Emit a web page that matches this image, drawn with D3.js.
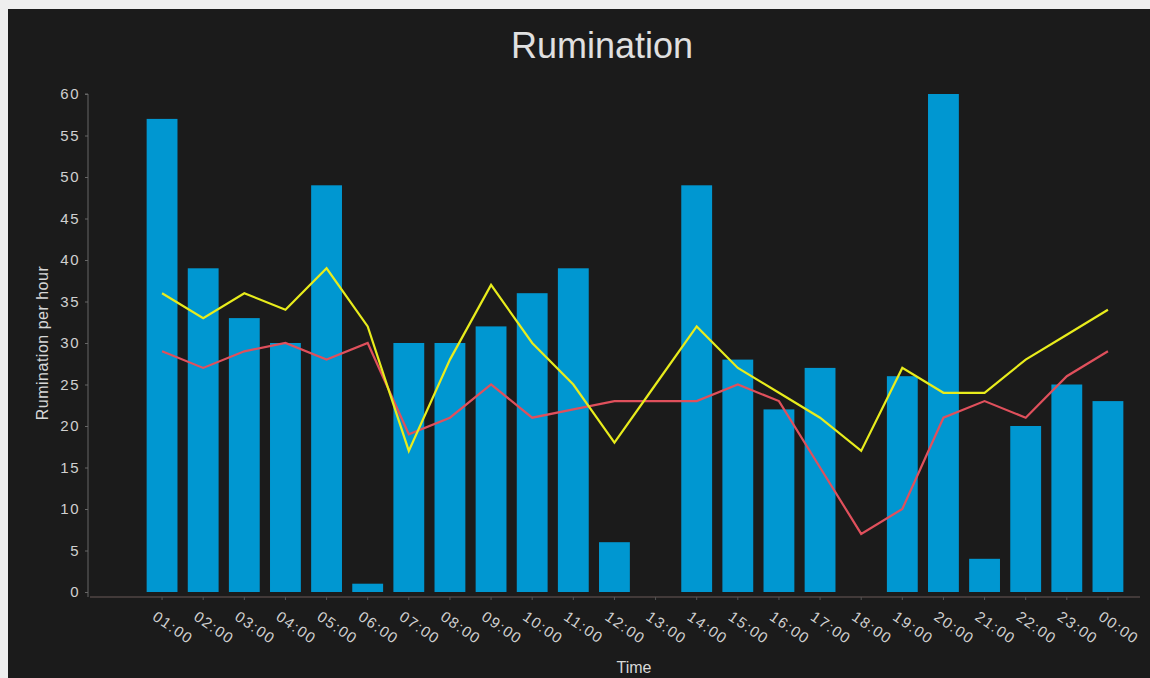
<!DOCTYPE html>
<html>
<head>
<meta charset="utf-8">
<script src="https://cdn.jsdelivr.net/npm/d3@7"></script>
<style>
  body { margin: 0; background: #eeeeee; }
  #graph { width: 1150px; height: 678px; }
</style>
</head>
<body>
<div id="graph"></div>
<script>
const hours = ["01:00","02:00","03:00","04:00","05:00","06:00","07:00","08:00","09:00","10:00","11:00","12:00",
  "13:00","14:00","15:00","16:00","17:00","18:00","19:00","20:00","21:00","22:00","23:00","00:00"]
const barValues = [57, 39, 33, 30, 49, 1, 30, 30, 32, 36, 39, 6, 0, 49, 28, 22, 27, 0, 26, 60, 4, 20, 25, 23]
const yellowValues = [36, 33, 36, 34, 39, 32, 17, 28, 37, 30, 25, 18, 25, 32, 27, 24, 21, 17, 27, 24, 24, 28, 31, 34]
const redValues = [29, 27, 29, 30, 28, 30, 19, 21, 25, 21, 22, 23, 23, 23, 25, 23, 15, 7, 10, 21, 23, 21, 26, 29]
const yTicks = [0, 5, 10, 15, 20, 25, 30, 35, 40, 45, 50, 55, 60]

const width = 1150
const height = 678
const font = "'Liberation Sans', Arial, sans-serif"

const svg = d3.select("#graph").append("svg")
    .attr("width", width)
    .attr("height", height)

// Dark panel
svg.append("rect")
    .attr("x", 8)
    .attr("y", 9)
    .attr("width", width - 8)
    .attr("height", height - 9)
    .attr("fill", "#1b1b1b")

const x = d3.scaleBand()
    .domain(hours)
    .range([141.5, 1128.5])
    .paddingInner(0.25)
    .paddingOuter(0.125)

const y = d3.scaleLinear()
    .domain([0, 60])
    .range([592, 94])

// Title
svg.append("text")
    .attr("x", 602)
    .attr("y", 58)
    .attr("text-anchor", "middle")
    .attr("font-family", font)
    .attr("font-size", 36)
    .attr("fill", "#e0e0e0")
    .text("Rumination")

// Y axis
const yAxis = svg.append("g")
    .attr("transform", "translate(88,0)")
    .call(d3.axisLeft(y).tickValues(yTicks).tickSize(3).tickPadding(6))
yAxis.select(".domain").attr("stroke", "#666").attr("d", "M-3,94H0V597")
yAxis.selectAll(".tick line").attr("stroke", "#666")
yAxis.selectAll(".tick text")
    .attr("fill", "#d0d0d0")
    .attr("font-family", font)
    .attr("font-size", 15)
    .attr("letter-spacing", 1.5)
    .attr("dx", 1)

svg.append("text")
    .attr("transform", "translate(48,343) rotate(-90)")
    .attr("text-anchor", "middle")
    .attr("font-family", font)
    .attr("font-size", 16)
    .attr("letter-spacing", 0.5)
    .attr("fill", "#d8d8d8")
    .text("Rumination per hour")

// Bars
svg.append("g")
    .attr("fill", "#0097d1")
    .selectAll()
    .data(barValues)
    .join("rect")
    .attr("x", (d, i) => x(hours[i]))
    .attr("y", d => y(d))
    .attr("width", x.bandwidth())
    .attr("height", d => y(0) - y(d))

// X axis
const xAxis = svg.append("g")
    .attr("transform", "translate(0,597)")
    .call(d3.axisBottom(x).tickSize(3).tickSizeOuter(0))
xAxis.select(".domain").attr("stroke", "#6a5a58").attr("d", "M90,0H1140")
xAxis.selectAll(".tick line").attr("stroke", "#555")
xAxis.selectAll(".tick text")
    .attr("fill", "#d0d0d0")
    .attr("font-family", font)
    .attr("font-size", 15)
    .attr("letter-spacing", 1.5)
    .attr("text-anchor", "start")
    .attr("dy", 0)
    .attr("transform", "translate(-7,17) rotate(35)")

svg.append("text")
    .attr("x", 634)
    .attr("y", 673)
    .attr("text-anchor", "middle")
    .attr("font-family", font)
    .attr("font-size", 16)
    .attr("fill", "#d8d8d8")
    .text("Time")

// Lines
const line = d3.line()
    .x((d, i) => x(hours[i]) + x.bandwidth() / 2)
    .y(d => y(d))

svg.append("path")
    .datum(redValues)
    .attr("fill", "none")
    .attr("stroke", "#e0505c")
    .attr("stroke-width", 2.2)
    .attr("d", line)

svg.append("path")
    .datum(yellowValues)
    .attr("fill", "none")
    .attr("stroke", "#e8ec1c")
    .attr("stroke-width", 2.2)
    .attr("d", line)
</script>
</body>
</html>
